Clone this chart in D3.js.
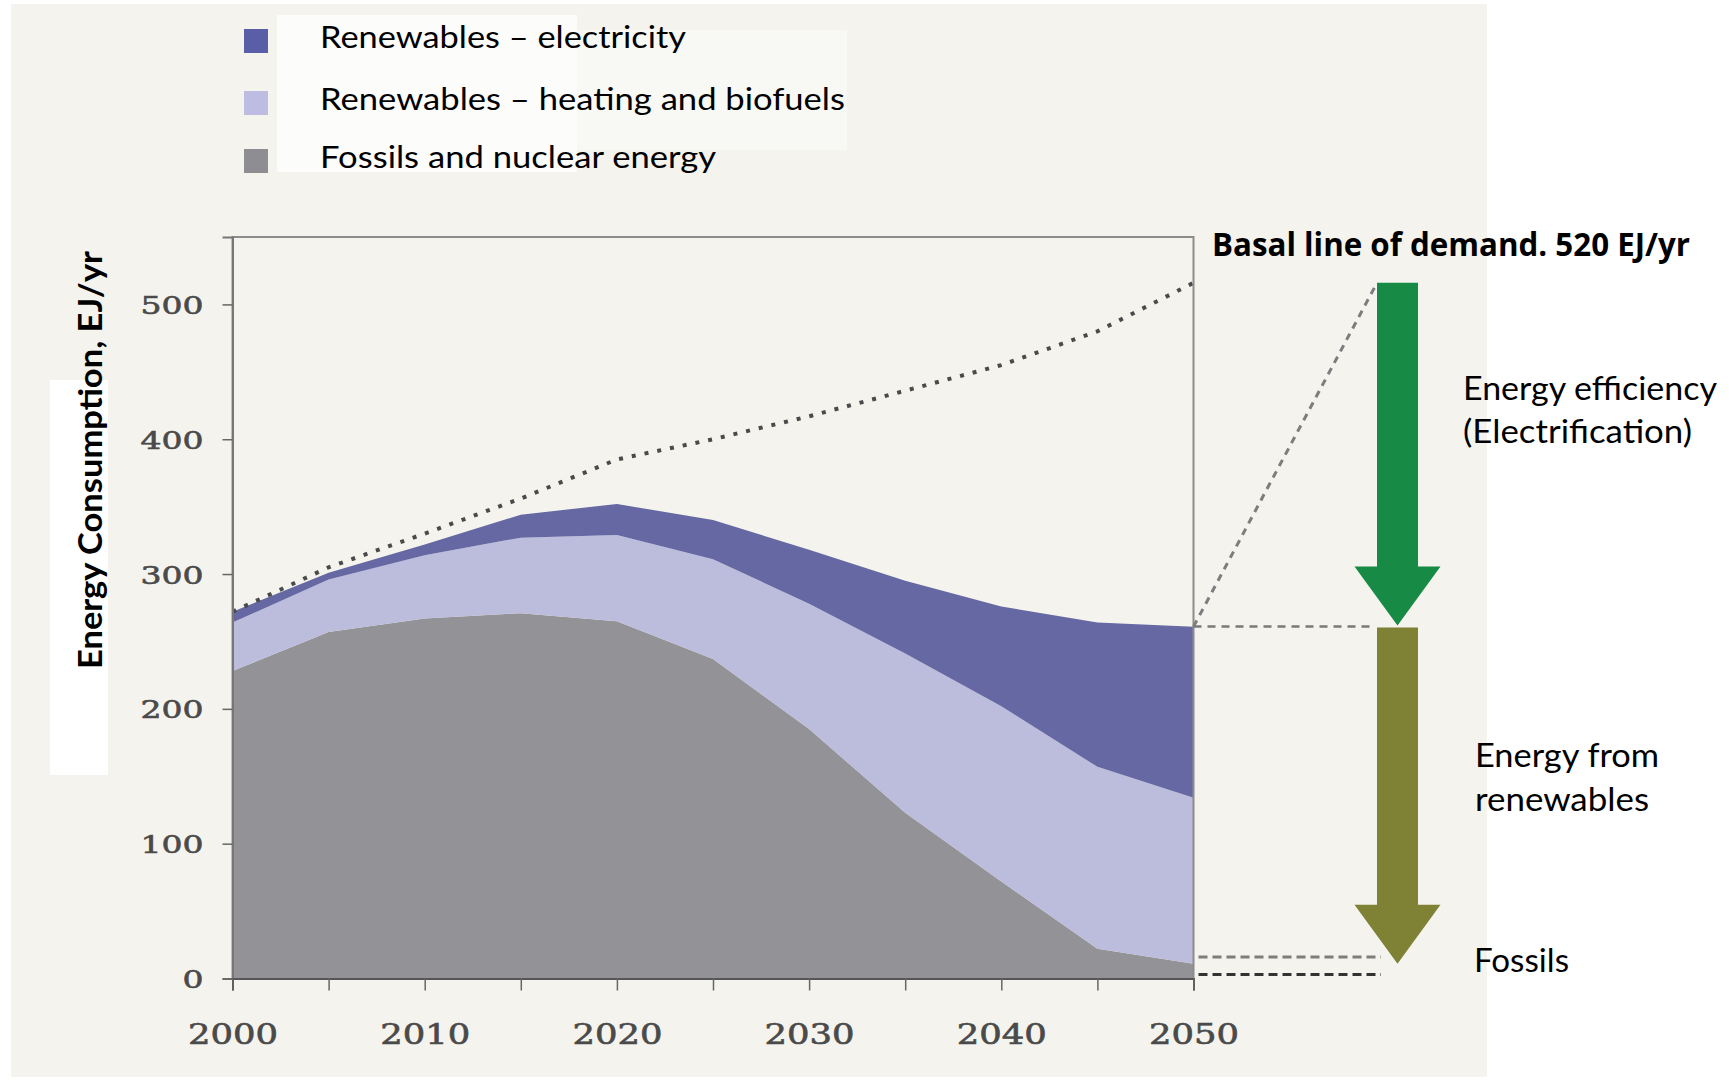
<!DOCTYPE html>
<html><head><meta charset="utf-8">
<script src="https://cdn.jsdelivr.net/npm/d3@7"></script>
<style>html,body{margin:0;padding:0;background:#fff;} svg{display:block}</style>
</head><body>
<svg id="c" width="1735" height="1081"></svg>
<script>
// ---------- data ----------
const years       = [2000, 2005, 2010, 2015, 2020, 2025, 2030, 2035, 2040, 2045, 2050];
const fossil      = [228, 257, 267, 271, 265, 237, 185, 123, 72, 22, 11];
const heating     = [36, 39, 47, 56, 64, 74, 93, 118, 130, 135, 123];
const electricity = [8, 5, 8, 17, 23, 29, 40, 54, 74, 107, 127];
const demand      = [272, 305, 330, 356, 385, 400, 417, 436, 455, 480, 516];
const yTicks      = [0, 100, 200, 300, 400, 500];
const xTicks      = [2000, 2005, 2010, 2015, 2020, 2025, 2030, 2035, 2040, 2045, 2050];
const xLabels     = [2000, 2010, 2020, 2030, 2040, 2050];
const seriesKeys  = ["fossil", "heating", "electricity"];
const legendNames = ["Renewables – electricity", "Renewables – heating and biofuels", "Fossils and nuclear energy"];
const fossilMarks = [16, 3];
const yTitle      = "Energy Consumption, EJ/yr";
const basalLabel  = "Basal line of demand. 520 EJ/yr";
const arrowLabels = [["Energy efficiency", "(Electrification)"], ["Energy from", "renewables"], ["Fossils"]];

// ---------- styles ----------
const colors = {fossil: "#939397", heating: "#bcbcdd", electricity: "#6568a2"};
const legendColors = ["#5a5ea6", "#bdbde1", "#8e8e92"];
const bg = "#f4f3ed";

const table = years.map((yr, i) => ({year: yr, fossil: fossil[i], heating: heating[i], electricity: electricity[i]}));
const svg = d3.select("#c");

// backgrounds
svg.append("rect").attr("x", 0).attr("y", 0).attr("width", 1735).attr("height", 1081).attr("fill", "#ffffff");
svg.append("rect").attr("x", 11).attr("y", 4).attr("width", 1476).attr("height", 1073).attr("fill", bg);
svg.append("rect").attr("x", 277).attr("y", 15).attr("width", 300).attr("height", 157).attr("fill", "#ffffff").attr("opacity", 0.75);
svg.append("rect").attr("x", 577).attr("y", 30).attr("width", 270).attr("height", 120).attr("fill", "#ffffff").attr("opacity", 0.4);
svg.append("rect").attr("x", 50).attr("y", 380).attr("width", 58).attr("height", 395).attr("fill", "#ffffff");

const x = d3.scaleLinear().domain([2000, 2050]).range([232.5, 1193.5]);
const y = d3.scaleLinear().domain([0, 550]).range([978.5, 237]);

// stacked areas
const stack = d3.stack().keys(seriesKeys)(table);
const area = d3.area()
  .x(d => x(d.data.year))
  .y0(d => y(d[0]))
  .y1(d => y(d[1]));
svg.append("g").selectAll("path").data(stack).join("path")
  .attr("d", area)
  .attr("fill", d => colors[d.key]);

// demand dotted line
svg.append("path")
  .datum(years.map((yr, i) => [yr, demand[i]]))
  .attr("d", d3.line().x(d => x(d[0])).y(d => y(d[1])))
  .attr("fill", "none")
  .attr("stroke", "#4a4a4a")
  .attr("stroke-width", 4)
  .attr("stroke-dasharray", "4 9");

// frame
svg.append("path")
  .attr("d", `M${x(2000)},${y(0)}V${y(550)}H${x(2050)}V${y(0)}`)
  .attr("fill", "none").attr("stroke", "#8c8c8c").attr("stroke-width", 2);

// axes
const yAxis = svg.append("g").attr("transform", `translate(${x(2000)},0)`)
  .call(d3.axisLeft(y).tickValues(yTicks).tickSize(10).tickPadding(19));
yAxis.select(".domain").attr("stroke", "#777").attr("stroke-width", 2);
yAxis.selectAll(".tick line").attr("stroke", "#666").attr("stroke-width", 1.5);
yAxis.selectAll(".tick text")
  .attr("font-family", "DejaVu Serif").attr("font-size", 25).attr("fill", "#4a4a4a")
  .attr("stroke", "#4a4a4a").attr("stroke-width", 0.6)
  .attr("dy", "0.36em")
  .each(function(d) {
    const s = String(d);
    d3.select(this).attr("textLength", s.length * 21).attr("lengthAdjust", "spacingAndGlyphs");
  });

const xAxis = svg.append("g").attr("transform", `translate(0,${y(0)})`)
  .call(d3.axisBottom(x).tickValues(xTicks).tickSize(12).tickFormat(d => xLabels.includes(d) ? String(d) : ""));
xAxis.select(".domain").attr("stroke", "#555").attr("stroke-width", 2);
xAxis.selectAll(".tick line").attr("stroke", "#666").attr("stroke-width", 1.5);
xAxis.selectAll(".tick text")
  .attr("font-family", "DejaVu Serif").attr("font-size", 27).attr("fill", "#4a4a4a")
  .attr("stroke", "#4a4a4a").attr("stroke-width", 0.6)
  .attr("y", 65.5).attr("dy", 0)
  .each(function(d) {
    if (xLabels.includes(d)) d3.select(this).attr("textLength", 90).attr("lengthAdjust", "spacingAndGlyphs");
  });

// y title
svg.append("text")
  .attr("transform", "translate(102,460) rotate(-90)")
  .attr("text-anchor", "middle")
  .attr("font-family", "Lato").attr("font-weight", "bold").attr("font-size", 32)
  .attr("fill", "#000")
  .attr("textLength", 418).attr("lengthAdjust", "spacingAndGlyphs")
  .text(yTitle);

// legend
const legendY = [48, 110, 168];
const legendW = [366, 525, 396];
legendNames.forEach((name, i) => {
  svg.append("rect").attr("x", 244).attr("y", legendY[i] - 19).attr("width", 24).attr("height", 24)
    .attr("fill", legendColors[i]);
  svg.append("text").attr("x", 320).attr("y", legendY[i])
    .attr("font-family", "Lato").attr("font-size", 30).attr("fill", "#000")
    .attr("textLength", legendW[i]).attr("lengthAdjust", "spacingAndGlyphs")
    .text(name);
});

// ---------- right-side annotation ----------
const last = years.length - 1;
const total2050 = fossil[last] + heating[last] + electricity[last];
const ax = 1397.5, shaftW = 41, headW = 86, headL = 59;
function arrow(yTop, yTip, color) {
  const p = d3.path();
  p.moveTo(ax - shaftW / 2, yTop);
  p.lineTo(ax + shaftW / 2, yTop);
  p.lineTo(ax + shaftW / 2, yTip - headL);
  p.lineTo(ax + headW / 2, yTip - headL);
  p.lineTo(ax, yTip);
  p.lineTo(ax - headW / 2, yTip - headL);
  p.lineTo(ax - shaftW / 2, yTip - headL);
  p.closePath();
  svg.append("path").attr("d", p.toString()).attr("fill", color);
}

// dashed guides
svg.append("line")
  .attr("x1", x(2050)).attr("y1", y(total2050)).attr("x2", ax - shaftW / 2).attr("y2", y(demand[last]))
  .attr("stroke", "#7d7d7d").attr("stroke-width", 3).attr("stroke-dasharray", "7 6");
svg.append("line")
  .attr("x1", x(2050)).attr("y1", y(total2050)).attr("x2", ax - shaftW / 2 - 3).attr("y2", y(total2050))
  .attr("stroke", "#7a7a7a").attr("stroke-width", 2.5).attr("stroke-dasharray", "8 6");
fossilMarks.forEach((v, i) => {
  svg.append("line")
    .attr("x1", x(2050) + 5).attr("y1", y(v)).attr("x2", 1381).attr("y2", y(v))
    .attr("stroke", i === 0 ? "#7d7d7d" : "#333").attr("stroke-width", 3).attr("stroke-dasharray", "9 5");
});

arrow(y(demand[last]), y(total2050) - 1, "#178b45");
arrow(y(total2050) + 1, y(fossil[last]), "#7f8235");

svg.append("text").attr("x", 1212).attr("y", 256)
  .attr("font-family", "Open Sans").attr("font-weight", "bold").attr("font-size", 32)
  .attr("fill", "#000")
  .attr("textLength", 478).attr("lengthAdjust", "spacingAndGlyphs")
  .text(basalLabel);

const labelPos = [
  {x: 1463, ys: [400, 443], w: [254, 229]},
  {x: 1475, ys: [767, 811], w: [184, 174]},
  {x: 1474, ys: [972], w: [95]}
];
arrowLabels.forEach((lines, i) => {
  lines.forEach((t, j) => {
    svg.append("text").attr("x", labelPos[i].x).attr("y", labelPos[i].ys[j])
      .attr("font-family", "Lato").attr("font-size", 32).attr("fill", "#000")
      .attr("textLength", labelPos[i].w[j]).attr("lengthAdjust", "spacingAndGlyphs")
      .text(t);
  });
});
</script>
</body></html>
